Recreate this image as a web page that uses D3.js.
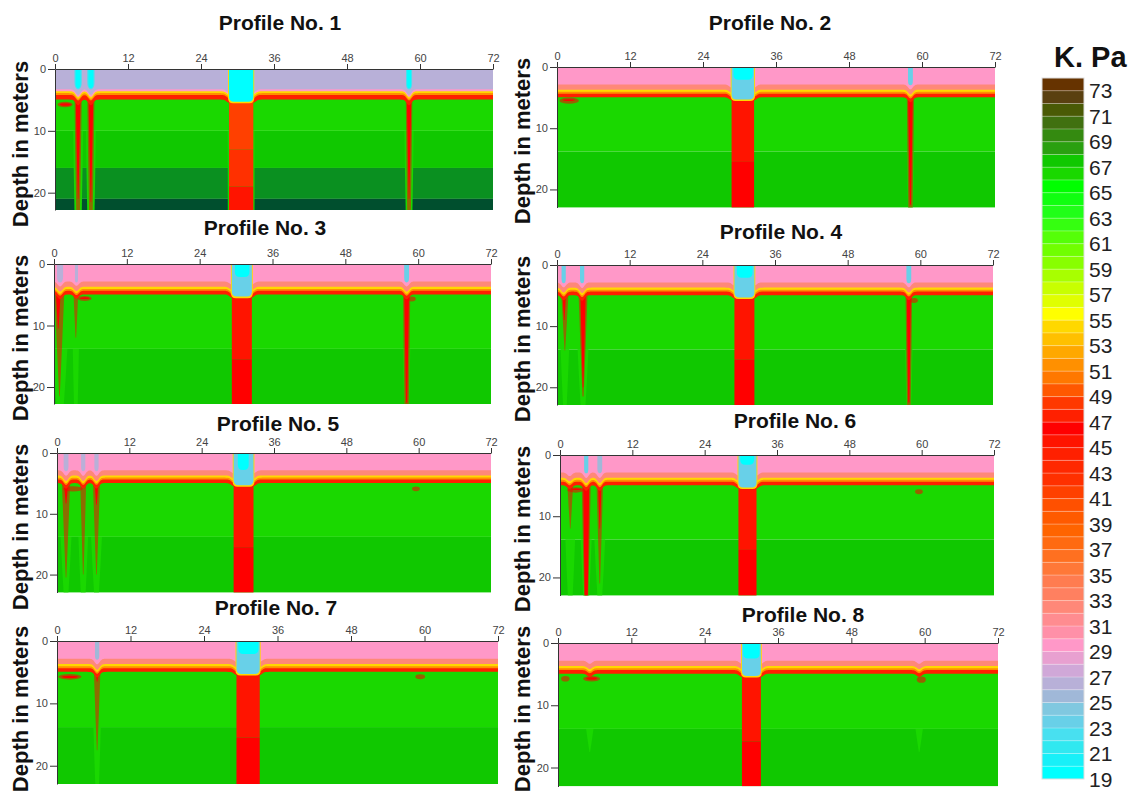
<!DOCTYPE html>
<html>
<head>
<meta charset="utf-8">
<script src="https://cdn.jsdelivr.net/npm/d3@7"></script>
<style>
  body { margin: 0; background: #fff; }
  svg { display: block; font-family: "Liberation Sans", Arial, sans-serif; }
</style>
</head>
<body>
<svg id="chart" width="1140" height="794"></svg>
<script>
// ---------------- data ----------------
const profileNames = ["Profile No. 1", "Profile No. 2", "Profile No. 3", "Profile No. 4",
                      "Profile No. 5", "Profile No. 6", "Profile No. 7", "Profile No. 8"];
const distanceTicks = [0, 12, 24, 36, 48, 60, 72];
const depthTicks = [0, 10, 20];
const unitTitle = "K. Pa";

// colour levels, one band per K. Pa from 19 to 74
const barLevels = d3.range(19, 75);
const barColors = [
  "#00ffff", "#18f0f8", "#30e8f0", "#48e0f0", "#68d0e8", "#80c8e0", "#a0b8d8", "#b8b0d8",
  "#d0a8d8", "#e8a0d0", "#ff98c8", "#ff90a8", "#ff8c90", "#ff8878", "#ff8060", "#ff7c50",
  "#ff7838", "#ff7020", "#ff6a10", "#ff6400", "#ff5a00", "#ff5000", "#ff4000", "#ff3000",
  "#ff2800", "#ff2000", "#ff1400", "#ff0000", "#ff2000", "#ff3800", "#ff5800", "#ff7800",
  "#ff9000", "#ffa800", "#ffc000", "#ffd800", "#ffff00", "#e0ff00", "#c8ff00", "#a8ff00",
  "#88ff00", "#70ff00", "#55ff08", "#35ff10", "#20ff18", "#10ff10", "#00ff00", "#1ad800",
  "#10c800", "#2aa010", "#348a10", "#407010", "#4a5a05", "#5a4010", "#663300"
];
const barLabels = d3.range(73, 18, -2);
// stiff deep strata of profile 1 lie above the plotted range
const deepBreaks = [76];
const deepColors = ["#0a9020", "#004f2e"];

// horizontal strata: [top depth, bottom depth, K. Pa]
const layers = [
  [[0, 10, 66.5], [10, 16, 67.5], [16, 21, 75], [21, 23, 77]],
  [[0, 13.8, 66.5], [13.8, 23, 67.5]],
  [[0, 13.8, 66.5], [13.8, 23, 67.5]],
  [[0, 13.8, 66.5], [13.8, 23, 67.5]],
  [[0, 13.8, 66.5], [13.8, 23, 67.5]],
  [[0, 13.8, 66.5], [13.8, 23, 67.5]],
  [[0, 13.8, 66.5], [13.8, 23, 67.5]],
  [[0, 13.8, 66.5], [13.8, 23, 67.5]]
];

// near-surface sequence, deepest first: [bottom depth, K. Pa]
const surfaceBands = [
  [[4.95, 47.5], [4.2, 51.5], [3.9, 54.5], [3.6, 29.5], [3.28, 26.5]],
  [[4.95, 47.5], [4.35, 51.5], [4.05, 54.5], [3.7, 32.5], [2.85, 29.5]],
  [[4.95, 47.5], [4.35, 51.5], [4.05, 54.5], [3.7, 32.5], [2.85, 29.5]],
  [[4.95, 47.5], [4.35, 51.5], [4.05, 54.5], [3.7, 32.5], [2.85, 29.5]],
  [[4.95, 47.5], [4.35, 51.5], [4.05, 54.5], [3.7, 32.5], [2.85, 29.5]],
  [[4.95, 47.5], [4.35, 51.5], [4.05, 54.5], [3.7, 32.5], [2.85, 29.5]],
  [[4.95, 47.5], [4.35, 51.5], [4.05, 54.5], [3.7, 32.5], [2.85, 29.5]],
  [[4.95, 47.5], [4.35, 51.5], [4.05, 54.5], [3.7, 32.5], [2.85, 29.5]]
];

// sag of the near-surface sequence: [distance, flat half-width, extra depth]
const sags = [
  [[3.8, 0, 0.9], [5.9, 0, 0.9], [58.2, 0, 0.9], [30.6, 2.0, 0.5]],
  [[58.1, 0, 0.8], [30.55, 1.85, 0.5]],
  [[1.0, 0, 0.8], [3.7, 0, 0.7], [58.1, 0, 0.8], [30.95, 1.65, 0.5]],
  [[1.1, 0, 0.8], [4.15, 0, 0.9], [58.1, 0, 0.8], [30.95, 1.65, 0.5]],
  [[1.5, 0, 0.9], [4.35, 0, 0.9], [6.55, 0, 0.9], [30.95, 1.65, 0.5]],
  [[1.6, 0, 0.6], [4.35, 0, 0.9], [6.6, 0, 0.9], [31.1, 1.5, 0.5]],
  [[6.55, 0, 0.9], [31.2, 1.9, 0.5]],
  [[5.2, 0, 0.5], [59.1, 0, 0.5], [31.65, 1.55, 0.5]]
];

// tapering anomalies: [distance, top, bottom, half-width top, half-width bottom, K. Pa]
// halos: stiffer ground reaching into the layer below
const halos = [
  [[3.8, 10, 23, 0.8, 0.6, 66.5], [5.9, 10, 23, 0.8, 0.6, 66.5], [58.2, 10, 23, 0.75, 0.55, 66.5]],
  [[58.1, 13.8, 23, 0.6, 0.4, 66.5]],
  [[1.0, 13.8, 23, 1.2, 0.6, 66.5], [3.6, 13.8, 23, 0.5, 0.3, 66.5], [58.1, 13.8, 23, 0.6, 0.4, 66.5]],
  [[1.3, 13.8, 23, 0.7, 0.3, 66.5], [4.3, 13.8, 23, 0.9, 0.4, 66.5], [58.1, 13.8, 23, 0.6, 0.4, 66.5]],
  [[1.5, 13.8, 23, 0.9, 0.4, 66.5], [4.35, 13.8, 23, 0.8, 0.4, 66.5], [6.55, 13.8, 23, 0.9, 0.4, 66.5]],
  [[1.7, 13.8, 23, 0.8, 0.4, 66.5], [4.35, 13.8, 23, 0.9, 0.5, 66.5], [6.6, 13.8, 23, 0.9, 0.4, 66.5]],
  [[6.55, 13.8, 23, 0.6, 0.3, 66.5]],
  [[5.2, 13.8, 17.5, 0.6, 0.05, 66.5], [59.1, 13.8, 17.5, 0.6, 0.05, 66.5]]
];
// fringes: transition between the soft core and the surrounding ground
const fringes = [
  [[3.8, 4.5, 23, 0.6, 0.3, 46.5], [5.9, 4.5, 23, 0.6, 0.3, 46.5], [58.2, 4.5, 23, 0.55, 0.3, 46.5]],
  [[58.1, 4.5, 23, 0.6, 0.35, 46.5]],
  [[0.9, 4.5, 21.5, 0.8, 0.05, 46.5], [3.6, 4.5, 12, 0.4, 0.05, 46.5], [58.1, 4.5, 23, 0.6, 0.35, 46.5]],
  [[1.3, 4.5, 14, 0.6, 0.05, 46.5], [4.3, 4.5, 21.5, 0.75, 0.1, 46.5], [58.1, 4.5, 23, 0.55, 0.3, 46.5]],
  [[1.5, 4.5, 20.5, 0.7, 0.05, 46.5], [4.35, 4.5, 20, 0.5, 0.05, 46.5], [6.55, 4.5, 20, 0.6, 0.05, 46.5]],
  [[4.35, 4.5, 23, 0.75, 0.35, 46.5], [1.7, 4.5, 12, 0.5, 0.05, 46.5], [6.6, 4.5, 21, 0.55, 0.05, 46.5]],
  [[6.55, 4.5, 17.5, 0.55, 0.05, 46.5]],
  []
];
// cores: the soft material itself
const cores = [
  [[3.8, 4.5, 21, 0.4, 0.05, 46.5], [5.9, 4.5, 21.5, 0.4, 0.05, 46.5], [58.2, 4.5, 21, 0.38, 0.05, 46.5]],
  [[58.1, 4.5, 22.5, 0.4, 0.1, 46.5]],
  [[0.7, 4.5, 10.5, 0.4, 0.05, 46.5], [58.1, 4.5, 22.5, 0.4, 0.1, 46.5]],
  [[1.2, 4.5, 9, 0.3, 0.05, 46.5], [4.3, 4.5, 20, 0.45, 0.05, 46.5], [58.1, 4.5, 22.5, 0.35, 0.1, 46.5]],
  [[1.5, 4.5, 8.3, 0.4, 0.05, 46.5], [6.55, 4.5, 8.5, 0.35, 0.05, 46.5]],
  [[4.35, 4.5, 23, 0.5, 0.25, 46.5], [6.6, 4.5, 12, 0.3, 0.05, 46.5]],
  [[6.55, 4.5, 6.5, 0.3, 0.05, 46.5]],
  []
];

// lens-shaped pockets: [from, to, centre depth, half-thickness, K. Pa]
const lensFringes = [
  [[0.4, 2.9, 5.75, 0.45, 46.5]],
  [[0.4, 3.6, 5.5, 0.5, 46.5]],
  [[3.9, 6.2, 5.6, 0.4, 46.5], [58.3, 59.6, 5.7, 0.4, 46.5]],
  [[58.3, 59.6, 5.8, 0.4, 46.5]],
  [[1.0, 4.3, 5.9, 0.45, 46.5], [58.9, 60.2, 5.9, 0.4, 46.5]],
  [[1.2, 4.0, 5.7, 0.45, 46.5], [58.9, 60.2, 6.0, 0.4, 46.5]],
  [[0.2, 4.0, 5.75, 0.45, 46.5], [58.5, 60.1, 5.75, 0.4, 46.5]],
  [[0.5, 1.9, 5.75, 0.45, 46.5], [4.1, 6.9, 5.75, 0.45, 46.5], [58.7, 60.2, 5.9, 0.5, 46.5]]
];
const lensCores = [
  [[0.8, 2.6, 5.75, 0.2, 46.5]],
  [[0.9, 3.0, 5.4, 0.15, 46.5]],
  [[4.3, 5.8, 5.55, 0.15, 46.5]],
  [],
  [],
  [[1.8, 3.6, 5.6, 0.12, 46.5]],
  [[0.8, 3.4, 5.75, 0.18, 46.5]],
  [[4.6, 6.4, 5.7, 0.2, 46.5]]
];

// main vertical body below the surface: [from, to, top, bottom, K. Pa]
const columnBody = [
  [[28.4, 32.8, 10, 23, 66.5], [28.6, 32.6, 5.0, 13, 41.5], [28.6, 32.6, 13, 19, 42.5], [28.6, 32.6, 19, 23, 45.5]],
  [[28.7, 32.4, 5.0, 15.5, 45.5], [28.7, 32.4, 15.5, 23, 46.5]],
  [[29.3, 32.6, 5.0, 15.5, 45.5], [29.3, 32.6, 15.5, 23, 46.5]],
  [[29.3, 32.6, 5.0, 15.5, 45.5], [29.3, 32.6, 15.5, 23, 46.5]],
  [[29.3, 32.6, 5.0, 15.5, 45.5], [29.3, 32.6, 15.5, 23, 46.5]],
  [[29.6, 32.6, 5.0, 15.5, 45.5], [29.6, 32.6, 15.5, 23, 46.5]],
  [[29.3, 33.1, 5.0, 15.5, 45.5], [29.3, 33.1, 15.5, 23, 46.5]],
  [[30.1, 33.2, 5.0, 15.8, 45.5], [30.1, 33.2, 15.8, 23, 46.5]]
];

// soft near-surface fill over the body, outermost first: [from, to, bottom, K. Pa]
const columnTop = [
  [[28.45, 32.75, 5.55, 54.5], [28.6, 32.6, 5.3, 19.5]],
  [[28.55, 32.55, 5.55, 54.5], [28.7, 32.4, 5.3, 23.5], [29.0, 32.2, 2.1, 19.5]],
  [[29.15, 32.75, 5.55, 54.5], [29.3, 32.6, 5.3, 23.5], [29.8, 32.2, 2.1, 19.5]],
  [[29.15, 32.75, 5.55, 54.5], [29.3, 32.6, 5.3, 23.5], [29.7, 32.3, 2.1, 19.5]],
  [[29.15, 32.75, 5.55, 54.5], [29.3, 32.6, 5.3, 23.5], [30.0, 31.8, 2.8, 19.5]],
  [[29.45, 32.75, 5.55, 54.5], [29.6, 32.6, 5.3, 23.5], [29.9, 32.2, 1.6, 19.5]],
  [[29.15, 33.25, 5.55, 54.5], [29.3, 33.1, 5.3, 23.5], [29.6, 32.9, 2.1, 19.5]],
  [[29.95, 33.35, 5.55, 54.5], [30.1, 33.2, 5.3, 23.5], [30.3, 33.0, 2.5, 19.5]]
];

// narrow soft streaks from the surface: [distance, half-width, bottom, K. Pa]
const streaks = [
  [[3.8, 0.6, 3.3, 22.5], [3.8, 0.4, 3.1, 19.5], [5.9, 0.6, 3.3, 22.5], [5.9, 0.4, 3.1, 19.5],
   [58.2, 0.5, 3.3, 22.5], [58.2, 0.32, 3.1, 19.5]],
  [[58.1, 0.4, 3.0, 23.5]],
  [[1.0, 0.5, 3.0, 26.5], [3.7, 0.25, 3.0, 26.5], [58.1, 0.4, 3.0, 23.5]],
  [[1.1, 0.35, 3.0, 23.5], [4.15, 0.35, 3.0, 23.5], [58.1, 0.4, 3.0, 23.5]],
  [[1.5, 0.4, 3.0, 26.5], [4.35, 0.35, 3.0, 26.5], [6.55, 0.35, 3.0, 26.5]],
  [[4.35, 0.35, 3.0, 23.5], [6.6, 0.4, 3.0, 25.5]],
  [[6.55, 0.35, 3.0, 25.5]],
  []
];

// ---------------- layout ----------------
const panels = [
  { l: 55,  t: 69,  w: 438, h: 141,   d: 22.8,  title: [280, 30],  lab: [20, 144] },
  { l: 557, t: 67,  w: 438, h: 140.5, d: 22.95, title: [770, 30],  lab: [522, 141] },
  { l: 54,  t: 264, w: 437, h: 140,   d: 22.76, title: [265, 235], lab: [20, 338] },
  { l: 557, t: 265, w: 436, h: 140,   d: 22.9,  title: [781, 239], lab: [522, 339] },
  { l: 57,  t: 453, w: 434, h: 139.5, d: 22.95, title: [278, 431], lab: [20, 527] },
  { l: 560, t: 455, w: 434, h: 140.5, d: 22.95, title: [795, 428], lab: [522, 529] },
  { l: 57,  t: 641, w: 441, h: 143,   d: 22.93, title: [276, 615], lab: [20, 709] },
  { l: 558, t: 643, w: 440, h: 143.5, d: 23.05, title: [803, 622], lab: [522, 709] }
];

const color = d3.scaleThreshold()
  .domain(d3.range(20, 75).concat(deepBreaks))
  .range(barColors.concat(deepColors));

const svg = d3.select("#chart");
const defs = svg.append("defs");

function sagDepth(xv, list) {
  let m = 0;
  for (const [c, hw, a] of list) {
    const dd = Math.max(0, Math.abs(xv - c) - hw);
    const v = a * Math.exp(-(dd / 0.55) * (dd / 0.55));
    if (v > m) m = v;
  }
  return m;
}

function cupPath(x0, x1, y0, y1, r) {
  r = Math.min(r, (x1 - x0) / 2, (y1 - y0));
  return `M${x0},${y0}L${x0},${y1 - r}Q${x0},${y1} ${x0 + r},${y1}L${x1 - r},${y1}Q${x1},${y1} ${x1},${y1 - r}L${x1},${y0}Z`;
}

const sampleX = d3.range(0, 72.001, 0.1);

panels.forEach((p, i) => {
  const x = d3.scaleLinear().domain([0, 72]).range([p.l, p.l + p.w]);
  const y = d3.scaleLinear().domain([0, p.d]).range([p.t, p.t + p.h]);
  const g = svg.append("g").attr("class", "profile");

  defs.append("clipPath").attr("id", "clip" + i)
    .append("rect").attr("x", p.l).attr("y", p.t).attr("width", p.w).attr("height", p.h);
  const plot = g.append("g").attr("clip-path", `url(#clip${i})`);

  const wedgePath = d => {
    const [c, t, b, hwT, hwB] = d;
    const ym = (y(t) + y(b)) / 2;
    const xm = (hwT + hwB) / 2;
    return `M${x(c - hwT)},${y(t)}Q${x(c - xm * 1.05)},${ym} ${x(c - hwB)},${y(b)}` +
           `L${x(c + hwB)},${y(b)}Q${x(c + xm * 1.05)},${ym} ${x(c + hwT)},${y(t)}Z`;
  };
  const lensAttrs = sel => sel
    .attr("cx", d => (x(d[0]) + x(d[1])) / 2)
    .attr("rx", d => (x(d[1]) - x(d[0])) / 2)
    .attr("cy", d => y(d[2]))
    .attr("ry", d => y(d[2] + d[3]) - y(d[2]))
    .attr("fill", d => color(d[4]));

  // strata
  plot.selectAll("rect.layer").data(layers[i]).join("rect")
    .attr("class", "layer")
    .attr("x", x(0)).attr("width", x(72) - x(0))
    .attr("y", d => y(d[0])).attr("height", d => y(d[1]) - y(d[0]))
    .attr("fill", d => color(d[2]));

  // tapering anomalies: halo, fringe, core
  plot.selectAll("path.halo").data(halos[i]).join("path")
    .attr("class", "halo").attr("d", wedgePath).attr("fill", d => color(d[5]));
  plot.selectAll("path.fringe").data(fringes[i]).join("path")
    .attr("class", "fringe").attr("d", wedgePath).attr("fill", d => color(d[5]))
    .attr("fill-opacity", 0.5);
  plot.selectAll("path.core").data(cores[i]).join("path")
    .attr("class", "core").attr("d", wedgePath).attr("fill", d => color(d[5]));

  // pockets
  plot.selectAll("ellipse.lensf").data(lensFringes[i]).join("ellipse")
    .attr("class", "lensf").call(lensAttrs).attr("fill-opacity", 0.55);
  plot.selectAll("ellipse.lensc").data(lensCores[i]).join("ellipse")
    .attr("class", "lensc").call(lensAttrs);

  // near-surface sequence, painted from the deepest band upward
  surfaceBands[i].forEach(([bottom, val]) => {
    const area = d3.area()
      .x(v => x(v))
      .y0(y(0))
      .y1(v => y(bottom + sagDepth(v, sags[i])));
    plot.append("path").attr("d", area(sampleX)).attr("fill", color(val));
  });

  // main vertical body
  plot.selectAll("rect.body").data(columnBody[i]).join("rect")
    .attr("class", "body")
    .attr("x", d => x(d[0])).attr("width", d => x(d[1]) - x(d[0]))
    .attr("y", d => y(d[2])).attr("height", d => y(d[3]) - y(d[2]))
    .attr("fill", d => color(d[4]));

  plot.selectAll("path.cup").data(columnTop[i]).join("path")
    .attr("class", "cup")
    .attr("d", d => cupPath(x(d[0]), x(d[1]), y(0) - 1, y(d[2]), 5))
    .attr("fill", d => color(d[3]));

  // surface streaks
  plot.selectAll("path.streak").data(streaks[i]).join("path")
    .attr("class", "streak")
    .attr("d", d => {
      const xl = x(d[0] - d[1]), xr = x(d[0] + d[1]), xc = x(d[0]);
      const yb = y(d[2]), yt = y(0) - 1, r = (xr - xl);
      return `M${xl},${yt}L${xl},${yb - r}Q${xl},${yb} ${xc},${yb}Q${xr},${yb} ${xr},${yb - r}L${xr},${yt}Z`;
    })
    .attr("fill", d => color(d[3]));

  // axes
  const ax = g.append("g").attr("transform", `translate(0,${p.t})`)
    .call(d3.axisTop(x).tickValues(distanceTicks).tickSize(5).tickSizeOuter(0).tickPadding(2));
  const ay = g.append("g").attr("transform", `translate(${p.l},0)`)
    .call(d3.axisLeft(y).tickValues(depthTicks).tickSize(7).tickSizeOuter(0).tickPadding(2));
  [ax, ay].forEach(a => {
    a.selectAll("text").attr("font-size", 11).attr("fill", "#444")
      .attr("font-family", "'Liberation Sans', Arial, sans-serif");
    a.selectAll("line").attr("stroke", "#333");
    a.select(".domain").attr("stroke", "#333");
  });

  // titles
  g.append("text")
    .attr("x", p.title[0]).attr("y", p.title[1])
    .attr("text-anchor", "middle")
    .attr("font-size", 21).attr("font-weight", "bold").attr("fill", "#111")
    .text(profileNames[i]);

  g.append("text")
    .attr("transform", `translate(${p.lab[0] + 8},${p.lab[1]}) rotate(-90)`)
    .attr("text-anchor", "middle")
    .attr("font-size", 22).attr("font-weight", "bold").attr("fill", "#111")
    .text("Depth in meters");
});

// ---------------- colour bar ----------------
const barY = d3.scaleLinear().domain([19, 74]).range([779, 78]);
const bar = svg.append("g").attr("class", "colorbar");
const bx0 = 1042, bx1 = 1084;
bar.selectAll("rect.band").data(barLevels.slice(0, -1)).join("rect")
  .attr("class", "band")
  .attr("x", bx0).attr("width", bx1 - bx0)
  .attr("y", v => barY(v + 1)).attr("height", v => barY(v) - barY(v + 1))
  .attr("fill", v => color(v + 0.5));
bar.selectAll("line.sep").data(barLevels.slice(1, -1)).join("line")
  .attr("class", "sep")
  .attr("x1", bx0).attr("x2", bx1)
  .attr("y1", v => barY(v)).attr("y2", v => barY(v))
  .attr("stroke", "#fff").attr("stroke-opacity", 0.3).attr("stroke-width", 1);
bar.append("rect")
  .attr("x", bx0).attr("y", barY(74)).attr("width", bx1 - bx0).attr("height", barY(19) - barY(74))
  .attr("fill", "none").attr("stroke", "#ddd").attr("stroke-width", 1);
bar.selectAll("text.lbl").data(barLabels).join("text")
  .attr("class", "lbl")
  .attr("x", 1089).attr("y", v => barY(v))
  .attr("dy", "0.36em")
  .attr("font-size", 21).attr("fill", "#222")
  .text(v => v);
bar.append("text")
  .attr("x", 1054).attr("y", 67)
  .attr("font-size", 29).attr("font-weight", "bold").attr("fill", "#111")
  .text(unitTitle);
</script>
</body>
</html>
